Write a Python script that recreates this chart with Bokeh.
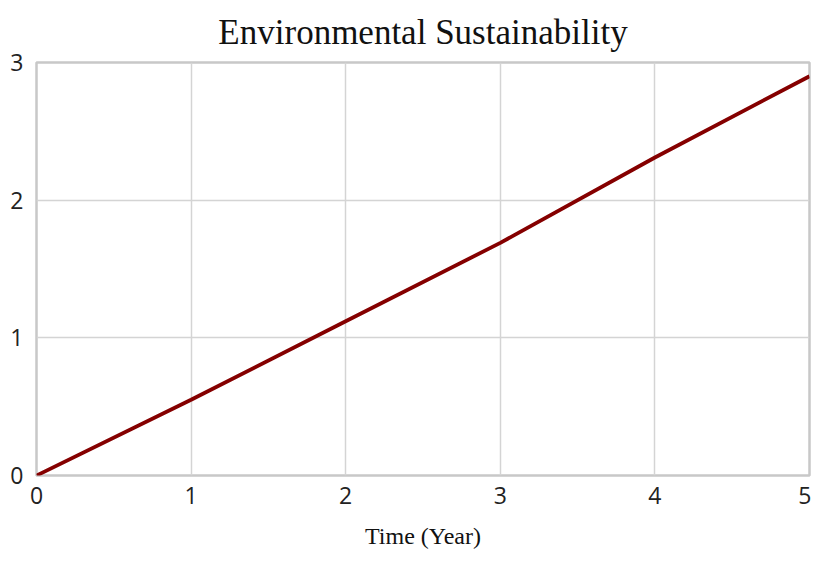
from bokeh.plotting import figure
from bokeh.embed import file_html
from bokeh.resources import INLINE
from bokeh.models import Range1d, FixedTicker

# Data
time_years = [0, 1, 2, 3, 4, 5]
sustainability = [0.0, 0.55, 1.12, 1.69, 2.31, 2.9]
x_ticks = [0, 1, 2, 3, 4, 5]
y_ticks = [0, 1, 2, 3]

p = figure(width=811, height=555, output_backend="svg", toolbar_location=None,
           x_range=Range1d(0, 5), y_range=Range1d(0, 3),
           title="Environmental Sustainability",
           min_border_left=36, min_border_right=2, min_border_top=62, min_border_bottom=80)

p.title.align = "center"
p.title.text_font = "Liberation Serif"
p.title.text_font_size = "35px"
p.title.text_font_style = "normal"
p.title.text_color = "#111111"
p.title.standoff = 21

p.line(time_years, sustainability, line_color="#850000", line_width=3.8)

p.outline_line_color = "#c8c8c8"
p.outline_line_width = 2.5

for ax in (p.xaxis[0], p.yaxis[0]):
    ax.axis_line_color = None
    ax.major_tick_line_color = None
    ax.minor_tick_line_color = None
    ax.major_label_text_font = "Open Sans"
    ax.major_label_text_font_size = "23px"
    ax.major_label_text_color = "#222222"

p.xaxis.ticker = FixedTicker(ticks=x_ticks)
p.yaxis.ticker = FixedTicker(ticks=y_ticks)
p.xaxis.major_label_standoff = 5
p.yaxis.major_label_standoff = 7

p.xaxis.axis_label = "Time (Year)"
p.xaxis.axis_label_text_font = "Liberation Serif"
p.xaxis.axis_label_text_font_size = "24px"
p.xaxis.axis_label_text_font_style = "normal"
p.xaxis.axis_label_text_color = "#111111"
p.xaxis.axis_label_standoff = 16

p.xgrid.grid_line_color = "#d4d4d4"
p.ygrid.grid_line_color = "#d4d4d4"
p.xgrid.grid_line_width = 1.5
p.ygrid.grid_line_width = 1.5

open("out.html", "w").write(file_html(p, INLINE))
